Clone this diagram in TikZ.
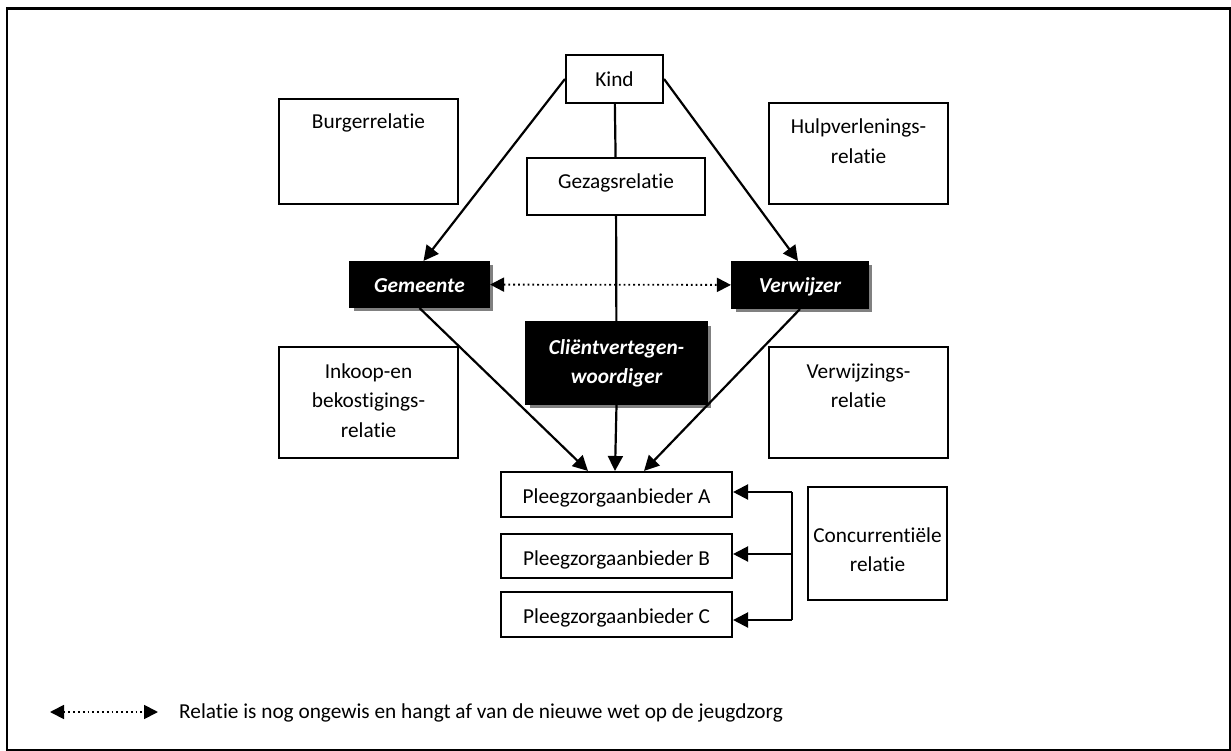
\documentclass[tikz,border=0pt]{standalone}
\usepackage{fontspec}
\setmainfont{Carlito}[Ligatures={NoCommon}]
\usetikzlibrary{arrows.meta,shadows,calc}
\newcommand{\bxt}[4]{\begin{minipage}[c][#2][t]{#1}\fontsize{21.3pt}{29.5pt}\selectfont\centering\rule{0pt}{#3}#4\end{minipage}}
\tikzset{
  wbox/.style={draw=black, line width=2.1pt, fill=white, inner sep=0pt},
  bbox/.style={draw=black, line width=2.1pt, fill=black, inner sep=0pt, text=white,
    drop shadow={shadow xshift=3.5pt, shadow yshift=-3.5pt, fill=black!50, opacity=1}},
  conn/.style={line width=2.2pt},
  arr/.style={line width=2.2pt, -{Triangle[length=15pt,width=15pt]}},
  dots/.style={line width=1.8pt, dash pattern=on 1.8pt off 3pt,
    {Triangle[length=14pt,width=14pt]}-{Triangle[length=14pt,width=14pt]}},
}
\begin{document}
\begin{tikzpicture}[x=1pt,y=-1pt]
\useasboundingbox (0,0) rectangle (1231,751);
\draw[line width=2.2pt] (7,8.5) rectangle (1230,750);

% white boxes
\node[wbox] (kind) at (614.5,79) {\bxt{97pt}{48pt}{32pt}{Kind}};
\node[wbox] (gezag) at (616,186.5) {\bxt{178pt}{57pt}{31pt}{Gezagsrelatie}};
\node[wbox] (burger) at (368.5,151.5) {\bxt{179pt}{105pt}{30pt}{Burgerrelatie}};
\node[wbox] (hulp) at (858.5,153.5) {\bxt{179pt}{101pt}{31pt}{Hulpverlenings-\\relatie}};
\node[wbox] (inkoop) at (368.5,402.5) {\bxt{179pt}{111pt}{31pt}{Inkoop-en\\bekostigings-\\relatie}};
\node[wbox] (verwrel) at (858.5,402.5) {\bxt{179pt}{111pt}{31pt}{Verwijzings-\\relatie}};
\node[wbox] (pa) at (616.5,494.5) {\bxt{231pt}{45pt}{31pt}{Pleegzorgaanbieder A}};
\node[wbox] (pb) at (616.5,556) {\bxt{231pt}{44pt}{31pt}{Pleegzorgaanbieder B}};
\node[wbox] (pc) at (616.5,614.5) {\bxt{231pt}{45pt}{31pt}{Pleegzorgaanbieder C}};
\node[wbox] (conc) at (877.5,543.5) {\bxt{139pt}{113pt}{55pt}{Concurrenti\"ele\\relatie}};

% black boxes
\node[bbox] (gem) at (419.5,284.5) {\bxt{139pt}{45pt}{31pt}{\bfseries\itshape Gemeente}};
\node[bbox] (verw) at (800,285) {\bxt{136pt}{46pt}{31pt}{\bfseries\itshape Verwijzer}};
\node[bbox] (client) at (616.5,363) {\bxt{181pt}{82pt}{32pt}{\bfseries\itshape Cli\"entvertegen-\\woordiger}};

% connectors
\draw[conn] (kind) -- (gezag);
\draw[conn] (gezag) -- (client);
\draw[arr] (kind.west) -- ($(gem.north)+(4,0)$);
\draw[arr] (kind.east) -- ($(verw.north)+(-2,0)$);
\draw[dots] (gem) -- (verw);
\draw[arr] (gem.south) -- ($(pa.north)+(-28.5,0)$);
\draw[arr] (client.south) -- ($(pa.north)+(-1.5,0)$);
\draw[arr] (verw.south) -- ($(pa.north)+(27.5,0)$);

% competition bracket
\coordinate (ba) at (792,492);
\coordinate (bb) at (792,554);
\coordinate (bc) at (792,620);
\draw[conn] (ba) -- (bc);
\draw[arr] (ba) -- (ba -| pa.east);
\draw[arr] (bb) -- (bb -| pb.east);
\draw[arr] (bc) -- (bc -| pc.east);

% legend
\coordinate (la) at (50,712);
\coordinate (lb) at (158,712);
\draw[dots] (la) -- (lb);
\node[anchor=west, inner sep=0pt, font=\fontsize{21.3pt}{25pt}\selectfont] (leg) at (179,713) {Relatie is nog ongewis en hangt af van de nieuwe wet op de jeugdzorg};
\end{tikzpicture}
\end{document}
